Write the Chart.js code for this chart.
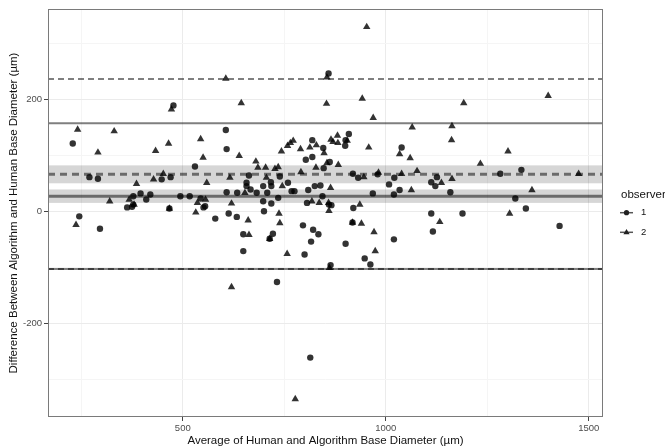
<!DOCTYPE html>
<html>
<head>
<meta charset="utf-8">
<script src="https://cdn.jsdelivr.net/npm/chart.js@4.4.0/dist/chart.umd.min.js"></script>
<style>
  html, body { margin: 0; padding: 0; background: #fff; }
  #c { display: block; }
</style>
</head>
<body>
<canvas id="c" width="665" height="448"></canvas>
<script>
// [average, difference] pairs
const observer1 = [
  [477,189],[606,145],[229,121],[608,111],[530,80],[270,61],[291,58],[448,57],[470,61],[608,34],
  [378,27],[396,32],[420,30],[410,21],[378,12],[363,7],[375,8],[467,5],[494,27],[517,27],
  [544,23],[551,7],[555,9],[580,-13],[613,-4],[245,-9],[296,-31],[633,-10],
  [859,246],[819,127],[846,113],[803,92],[819,97],[909,138],[901,127],[900,117],[1039,114],[862,88],
  [847,77],[919,67],[932,60],[980,66],[1021,60],[663,64],[717,52],[739,62],[759,51],[657,51],
  [634,33],[657,45],[667,39],[682,33],[698,45],[708,33],[718,45],[735,24],[768,36],[775,36],
  [809,38],[825,45],[839,46],[844,27],[698,18],[718,14],[806,15],[860,12],[866,11],[920,6],
  [968,32],[1008,48],[1034,38],[1020,30],[700,0],[649,-41],[722,-40],[714,-49],[649,-71],[800,-77],
  [796,-25],[821,-33],[834,-41],[816,-54],[901,-58],[918,-20],[948,-84],[962,-95],[1020,-50],[864,-96],
  [732,-126],[814,-261],
  [1282,67],[1334,74],[1112,52],[1126,61],[1122,45],[1159,34],[1319,23],[1112,-4],[1189,-4],[1345,5],
  [1116,-36],[1428,-26]
];
const observer2 = [
  [606,237],[472,182],[241,146],[331,143],[465,121],[544,129],[291,105],[433,108],[550,96],[452,67],
  [428,57],[386,49],[559,51],[616,60],[320,18],[368,21],[380,12],[467,5],[536,15],[556,21],
  [532,-2],[620,14],[237,-24],[620,-135],[644,193],[639,99],
  [855,239],[854,192],[942,201],[969,167],[1065,150],[743,107],[758,117],[765,122],[772,126],[790,111],
  [813,114],[829,118],[848,104],[865,128],[870,124],[881,135],[882,122],[905,126],[958,114],[1034,102],
  [1060,95],[680,89],[685,78],[704,78],[727,76],[735,79],[855,86],[883,83],[828,78],[791,70],
  [946,61],[982,69],[1039,67],[1077,72],[706,60],
  [653,33],[745,45],[864,42],[818,18],[836,15],[859,15],[860,1],[936,12],[1063,38],[661,-16],
  [737,-4],[739,-21],[663,-42],[714,-49],[757,-76],[918,-20],[940,-22],[971,-37],[974,-71],[861,-101],
  [953,329],[777,-335],
  [1192,193],[1400,206],[1163,152],[1162,127],[1301,107],[1233,85],[1475,67],[1137,51],[1163,58],[1360,38],
  [1305,-4],[1133,-19]
];

// bias and limits of agreement per observer
const obs1Mean = 27, obs1MeanCI = [15, 39], obs1Limits = [157, -103];
const obs2Mean = 66, obs2MeanCI = [50, 82], obs2Limits = [236, -103];

const xTicks = [250, 500, 750, 1000, 1250, 1500];
const yTicks = [-300, -200, -100, 0, 100, 200, 300];
const xRange = [168, 1535];
const yRange = [-367, 361];
const legendLabels = ['1', '2'];

const FONT = '"Liberation Sans", Arial, Helvetica, sans-serif';
const isMajor = v => v % 500 === 0;
const isMajorY = v => v % 200 === 0;

const blandAltman = {
  id: 'blandAltman',
  beforeDatasetsDraw(chart) {
    const { ctx, chartArea: a, scales: { y } } = chart;
    const py = v => y.getPixelForValue(v);
    ctx.save();
    ctx.beginPath();
    ctx.rect(a.left, a.top, a.width, a.height);
    ctx.clip();
    ctx.fillStyle = 'rgba(0,0,0,0.16)';
    [obs1MeanCI, obs2MeanCI].forEach(([lo, hi]) => {
      ctx.fillRect(a.left, py(hi), a.width, py(lo) - py(hi));
    });
    function hline(v, w, dash) {
      ctx.beginPath();
      ctx.setLineDash(dash);
      ctx.lineWidth = w;
      ctx.strokeStyle = 'rgba(0,0,0,0.5)';
      ctx.moveTo(a.left, py(v));
      ctx.lineTo(a.right, py(v));
      ctx.stroke();
    }
    obs1Limits.forEach(v => hline(v, 2, []));
    hline(obs1Mean, 3, []);
    obs2Limits.forEach(v => hline(v, 2, [6, 4]));
    hline(obs2Mean, 3, [7, 5]);
    ctx.restore();
  },
  afterDraw(chart) {
    const { ctx, chartArea: a } = chart;
    ctx.save();
    ctx.strokeStyle = '#7a7a7a';
    ctx.lineWidth = 1;
    ctx.strokeRect(a.left + 0.5, a.top + 0.5, a.width - 1, a.height - 1);

    // legend
    ctx.fillStyle = '#111';
    ctx.font = '11.5px ' + FONT;
    ctx.textBaseline = 'middle';
    ctx.fillText('observer', 621, 195);
    ctx.font = '9.5px ' + FONT;
    const rows = [212.7, 232.3];
    legendLabels.forEach((lab, i) => {
      const yy = rows[i];
      ctx.strokeStyle = '#555';
      ctx.lineWidth = 1.5;
      ctx.beginPath();
      ctx.moveTo(620, yy);
      ctx.lineTo(633, yy);
      ctx.stroke();
      ctx.fillStyle = '#222';
      ctx.beginPath();
      if (i === 0) {
        ctx.arc(626.5, yy, 2.6, 0, Math.PI * 2);
      } else {
        ctx.moveTo(626.5, yy - 3.4);
        ctx.lineTo(629.6, yy + 2);
        ctx.lineTo(623.4, yy + 2);
        ctx.closePath();
      }
      ctx.fill();
      ctx.fillStyle = '#111';
      ctx.fillText(lab, 641, yy);
    });
    ctx.restore();
  }
};

const toPoints = arr => arr.map(([x, y]) => ({ x, y }));

new Chart(document.getElementById('c'), {
  type: 'scatter',
  data: {
    datasets: [
      {
        label: '1',
        data: toPoints(observer1),
        pointStyle: 'circle',
        pointRadius: 3.2,
        pointHoverRadius: 3.2,
        pointBorderWidth: 0,
        backgroundColor: 'rgba(0,0,0,0.8)'
      },
      {
        label: '2',
        data: toPoints(observer2),
        pointStyle: 'triangle',
        pointRadius: 4.3,
        pointHoverRadius: 4.3,
        pointBorderWidth: 0,
        backgroundColor: 'rgba(0,0,0,0.8)'
      }
    ]
  },
  options: {
    responsive: false,
    animation: false,
    layout: { padding: { top: 9, right: 62, left: 0, bottom: 0 } },
    plugins: { legend: { display: false }, tooltip: { enabled: false } },
    scales: {
      x: {
        type: 'linear',
        min: xRange[0],
        max: xRange[1],
        afterBuildTicks: s => { s.ticks = xTicks.map(v => ({ value: v })); },
        afterFit: s => { s.height = 31; },
        border: { display: false },
        grid: {
          color: c => isMajor(c.tick.value) ? '#ebebeb' : '#f5f5f5',
          tickColor: c => isMajor(c.tick.value) ? '#444' : 'rgba(0,0,0,0)',
          tickLength: 4,
          lineWidth: 1
        },
        ticks: {
          autoSkip: false,
          maxRotation: 0,
          padding: 2,
          color: '#4d4d4d',
          font: { family: FONT, size: 9.5 },
          callback: v => isMajor(v) ? String(v) : ''
        },
        title: {
          display: true,
          text: 'Average of Human and Algorithm Base Diameter (µm)',
          color: '#111',
          font: { family: FONT, size: 11.5 },
          padding: { top: 0, bottom: 0 }
        }
      },
      y: {
        type: 'linear',
        min: yRange[0],
        max: yRange[1],
        afterBuildTicks: s => { s.ticks = yTicks.map(v => ({ value: v })); },
        afterFit: s => { s.width = 48; },
        border: { display: false },
        grid: {
          color: c => isMajorY(c.tick.value) ? '#ebebeb' : '#f5f5f5',
          tickColor: c => isMajorY(c.tick.value) ? '#444' : 'rgba(0,0,0,0)',
          tickLength: 4,
          lineWidth: 1
        },
        ticks: {
          autoSkip: false,
          padding: 2,
          color: '#4d4d4d',
          font: { family: FONT, size: 9.5 },
          callback: v => isMajorY(v) ? String(v) : ''
        },
        title: {
          display: true,
          text: 'Difference Between Algorithm and Human Base Diameter (µm)',
          color: '#111',
          font: { family: FONT, size: 11.5 },
          padding: { top: 7, bottom: 0 }
        }
      }
    }
  },
  plugins: [blandAltman]
});
</script>
</body>
</html>
